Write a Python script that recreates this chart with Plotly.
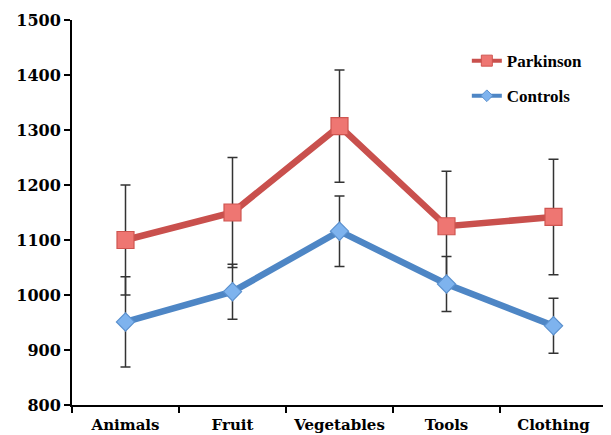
import plotly.graph_objects as go

categories = ["Animals", "Fruit", "Vegetables", "Tools", "Clothing"]
parkinson = [1100, 1150, 1307, 1125, 1142]
parkinson_err = [100, 100, 102, 100, 105]
controls = [951, 1006, 1116, 1020, 944]
controls_err = [82, 50, 64, 50, 50]
y_ticks = [800, 900, 1000, 1100, 1200, 1300, 1400, 1500]

TICK_FONT = "DejaVu Serif"
LEG_FONT = "Liberation Serif"
RED_LINE = "#C9504D"
RED_FILL = "#EE7672"
BLUE_LINE = "#4E86C5"
BLUE_FILL = "#7EB3EE"

fig = go.Figure()
fig.add_trace(go.Scatter(
    x=categories, y=parkinson, name="Parkinson", mode="lines+markers",
    showlegend=False,
    line=dict(color=RED_LINE, width=6.5),
    marker=dict(symbol="square", size=17, color=RED_FILL,
                line=dict(color="#CF5550", width=1.2)),
    error_y=dict(type="data", array=parkinson_err, visible=True,
                 color="#333333", thickness=1.5, width=5),
))
fig.add_trace(go.Scatter(
    x=categories, y=controls, name="Controls", mode="lines+markers",
    showlegend=False,
    line=dict(color=BLUE_LINE, width=6.5),
    marker=dict(symbol="diamond", size=14, color=BLUE_FILL,
                line=dict(color="#5A90CE", width=1.2)),
    error_y=dict(type="data", array=controls_err, visible=True,
                 color="#333333", thickness=1.5, width=5),
))
# legend entries
fig.add_trace(go.Scatter(
    x=[None], y=[None], name="Parkinson", mode="lines+markers",
    legendgroup="p",
    line=dict(color=RED_LINE, width=4),
    marker=dict(symbol="square", size=11, color=RED_FILL,
                line=dict(color="#CF5550", width=1)),
))
fig.add_trace(go.Scatter(
    x=[None], y=[None], name="Controls", mode="lines+markers",
    legendgroup="c",
    line=dict(color=BLUE_LINE, width=4),
    marker=dict(symbol="diamond", size=9, color=BLUE_FILL,
                line=dict(color="#5A90CE", width=1)),
))

fig.update_layout(
    width=603, height=427,
    margin=dict(l=64, r=4, t=12, b=30, autoexpand=False),
    plot_bgcolor="white", paper_bgcolor="white",
    font=dict(family=TICK_FONT, size=16, color="black", weight="bold"),
    showlegend=True,
    legend=dict(x=0.738, y=0.94, xanchor="left", yanchor="top",
                font=dict(family=LEG_FONT, size=17, color="black", weight="bold"),
                bgcolor="rgba(0,0,0,0)", tracegroupgap=10),
    xaxis=dict(
        type="category", categoryorder="array", categoryarray=categories,
        range=[-0.5, 4.5], showline=True, linecolor="black", linewidth=2,
        ticks="outside", tickson="boundaries", ticklen=6, tickwidth=2,
        tickcolor="black", showgrid=False, zeroline=False,
        ticklabelstandoff=5, automargin=False,
        tickfont=dict(family=TICK_FONT, size=15, color="black", weight="bold"),
    ),
    yaxis=dict(
        range=[800, 1500], tickvals=y_ticks, showline=True, linecolor="black",
        linewidth=2, ticks="outside", ticklen=6, tickwidth=2, tickcolor="black",
        showgrid=False, zeroline=False, automargin=False,
        tickfont=dict(family=TICK_FONT, size=16, color="black", weight="bold"),
    ),
)

fig.write_html("out.html")
